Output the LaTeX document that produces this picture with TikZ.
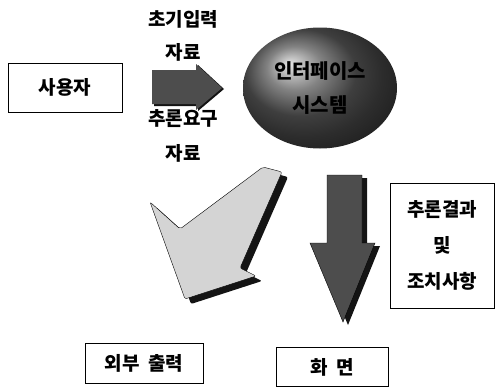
\documentclass[tikz,border=0pt]{standalone}
\usepackage{fontspec}
\newfontfamily\kr{Noto Sans CJK KR}
\usepackage{tikz}
\usetikzlibrary{positioning, calc, shapes.geometric}
\usepackage{xcolor}
\definecolor{diaDark}{HTML}{4D4D4D}
\definecolor{diaLight}{HTML}{D4D4D4}
\definecolor{diaShadow}{HTML}{141414}

\begin{document}
\begin{tikzpicture}[x=1pt, y=-1pt,
    labelbox/.style={draw=black, thick, fill=white, inner sep=0pt,
      font=\kr\bfseries\fontsize{19}{22}\selectfont},
    flowtext/.style={font=\kr\bfseries\fontsize{19}{22}\selectfont}]
        \useasboundingbox (0,0) rectangle (496,388);
        % 사용자
        \node[labelbox, minimum width=114pt, minimum height=49pt] (user) at (65,87.5) {사용자};
        % 입력 자료 (화살표 위/아래)
        \node[flowtext] (inTop) at (183,19) {초기입력};
        \node[flowtext] (inTopB) at (183,52) {자료};
        \node[flowtext] (inBot) at (183,119) {추론요구};
        \node[flowtext] (inBotB) at (183,153) {자료};
        % 오른쪽 화살표
        \fill[diaShadow] (154,71) -- (198,71) -- (198,65) -- (224,89) -- (198,111) -- (198,106) -- (154,106) -- cycle;
        \fill[diaDark] (152,70) -- (196,70) -- (196,64) -- (222,88) -- (196,110) -- (196,104) -- (152,104) -- cycle;
        % 인터페이스 시스템 (구)
        \node[ellipse, minimum width=154pt, minimum height=121pt, inner sep=0pt,
          shading=ball, ball color=gray!70!black, align=center,
          font=\kr\bfseries\fontsize{20}{34}\selectfont] (iface) at (320,88) {인터페이스\\시스템};
        % 꺾인 화살표 (외부 출력 쪽)
        \fill[diaShadow, rounded corners=2pt, shift={(6,5)}] (263,167) -- (282,172) -- (240,268) -- (256,276) -- (185,299) -- (150,202) -- (180,229) -- cycle;
        \filldraw[fill=diaLight, draw=black, rounded corners=2pt] (263,167) -- (282,172) -- (240,268) -- (256,276) -- (185,299) -- (150,202) -- (180,229) -- cycle;
        % 아래 화살표 (화면 쪽)
        \fill[diaShadow, shift={(5,3)}] (327,175) -- (362,175) -- (362,243) -- (375,243) -- (343,322) -- (310,243) -- (327,243) -- cycle;
        \filldraw[fill=diaDark, draw=black] (327,175) -- (362,175) -- (362,243) -- (375,243) -- (343,322) -- (310,243) -- (327,243) -- cycle;
        % 추론결과 및 조치사항
        \node[labelbox, minimum width=104pt, minimum height=125pt, align=center,
          font=\kr\bfseries\fontsize{19}{36}\selectfont] (result) at (442,245.5) {추론결과\\및\\조치사항};
        % 출력 장치
        \node[labelbox, minimum width=118pt, minimum height=40pt] (extout) at (144,363) {외부\ \ 출력};
        \node[labelbox, minimum width=112pt, minimum height=39pt] (screen) at (332,367) {화\ \ 면};
      \end{tikzpicture}
\end{document}
